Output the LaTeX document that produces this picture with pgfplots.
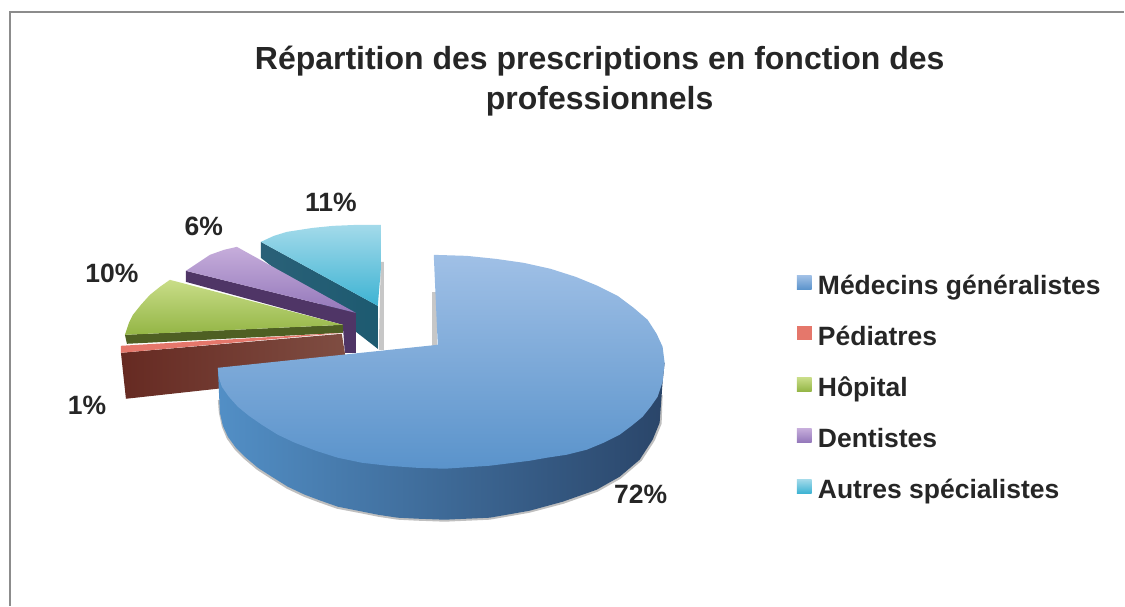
\documentclass[border=0pt]{standalone}
\usepackage{pgfplots}
\pgfplotsset{compat=1.18}
\usepackage{fontspec}
\setmainfont{Liberation Sans}
\definecolor{txt}{HTML}{262626}
\definecolor{frameg}{HTML}{8C8C8C}
\definecolor{cySideL}{HTML}{2A6178}
\definecolor{cySideR}{HTML}{1D5A70}
\definecolor{cyTop}{HTML}{A3DAEA}
\definecolor{cyBot}{HTML}{3DB3D3}
\definecolor{puSide}{HTML}{4F3566}
\definecolor{puTop}{HTML}{C6ADDB}
\definecolor{puBot}{HTML}{9377BA}
\definecolor{grSide}{HTML}{4E5F23}
\definecolor{grTop}{HTML}{C9DD88}
\definecolor{grBot}{HTML}{93B545}
\definecolor{reSideL}{HTML}{662A22}
\definecolor{reSideR}{HTML}{7F4D42}
\definecolor{reTop}{HTML}{E5776B}
\definecolor{blSideL}{HTML}{528FC6}
\definecolor{blSideM}{HTML}{315F8E}
\definecolor{blSideR}{HTML}{2A4569}
\definecolor{blTop}{HTML}{A0C0E6}
\definecolor{blBot}{HTML}{5A93CB}
\newcommand{\lab}{\fontsize{26.5}{31}\selectfont\bfseries\color{txt}}
\begin{document}
\begin{tikzpicture}
\begin{axis}[
  at={(0pt,0pt)}, anchor=south west,
  width=1125pt, height=606pt, scale only axis,
  xmin=0, xmax=1125, ymin=0, ymax=606, y dir=reverse,
  hide axis, clip=false,
  legend style={at={(axis cs:797,274)}, anchor=north west, draw=none, fill=none,
    font=\lab, row sep=28pt, inner sep=0pt, nodes={inner sep=1pt},
    /tikz/every even column/.append style={column sep=0pt}},
  legend cell align=left,
  legend image code/.code={\path[#1,draw=none] (0pt,-4pt) rectangle (15pt,10pt);\path (20pt,0pt);},
]
% frame
\addplot[frameg, line width=1.3pt, forget plot] coordinates {(10,606) (10,12) (1125,12)};
% Autres specialistes (11%)
\addplot[draw=none, fill=black!22, forget plot] coordinates {(381,262) (384,262) (384,350) (379,350)} --cycle;
\addplot[draw=none, fill=black!22, forget plot] coordinates {(432,292) (437,292) (437,347) (432,347)} --cycle;
\addplot[draw=none, shade, left color=cySideL, right color=cySideR, forget plot] coordinates {(261,242) (378,306) (378,349) (261,258)} --cycle;
\addplot[draw=none, shade, top color=cyTop, bottom color=cyBot, forget plot] coordinates {(261,242) (274,236) (287,232) (300,230) (313,228) (333,226) (357,225) (381,225) (381,270) (378,306)} --cycle;
% Dentistes (6%)
\addplot[draw=none, fill=puSide, forget plot] coordinates {(186,271) (352,312) (356,313) (356,353) (345,353) (343,325) (186,282)} --cycle;
\addplot[draw=none, shade, top color=puTop, bottom color=puBot, forget plot] coordinates {(186,271) (198,263) (210,255) (224,250) (237,247) (356,313)} --cycle;
% Hopital (10%)
\addplot[draw=none, fill=grSide, forget plot] coordinates {(125,335) (343,325) (343,333) (127,344)} --cycle;
\addplot[draw=none, shade, top color=grTop, bottom color=grBot, forget plot] coordinates {(170,280) (160,287) (150,295) (141,305) (133,315) (129,323) (125,335) (343,325)} --cycle;
% Pediatres (1%)
\addplot[draw=none, shade, left color=reSideL, right color=reSideR, forget plot] coordinates {(121,353) (342,334) (345,353) (345,375) (126,399)} --cycle;
\addplot[draw=none, fill=reTop, forget plot] coordinates {(121,346) (343,333) (121,353)} --cycle;
% Medecins generalistes (72%)
\addplot[draw=none, fill=black!25, forget plot] coordinates {(218,400) (219,413) (222,427) (227,439) (235,450) (244,459) (257,470) (271,479) (287,489) (304,497) (320,503) (337,509) (358,513) (378,517) (398,520) (418,521) (445,522) (490,520) (530,513) (564,504) (598,492) (621,479) (642,461) (655,441) (662,424) (663,395)} --cycle;
\addplot[draw=none, shade, left color=blSideL, middle color=blSideM, right color=blSideR, forget plot] coordinates {(218,368) (220,413) (223,426) (228,437) (236,448) (245,457) (258,468) (272,477) (288,487) (305,495) (321,501) (338,507) (358,511) (378,515) (398,518) (418,519) (445,520) (490,518) (530,511) (563,502) (597,490) (620,477) (640,460) (653,440) (660,423) (663,382) (665,363) (655,363) (600,420) (445,440)} --cycle;
\addplot[draw=none, shade, top color=blTop, bottom color=blBot, forget plot] coordinates {(434,255) (467,256) (496,259) (524,263) (551,269) (576,277) (598,286) (618,296) (634,308) (648,320) (657,334) (663,347) (665,363) (663,382) (658,397) (651,407) (643,417) (632,426) (620,435) (604,443) (587,450) (567,455) (547,458) (530,461) (490,466) (445,469) (416,468) (388,466) (362,463) (338,458) (316,451) (295,443) (278,435) (262,425) (249,416) (238,407) (229,397) (222,387) (219,378) (218,368) (438,345)} --cycle;
% legend
\addlegendimage{top color=blTop, bottom color=blBot}
\addlegendentry{Médecins généralistes}
\addlegendimage{fill=reTop}
\addlegendentry{Pédiatres}
\addlegendimage{top color=grTop, bottom color=grBot}
\addlegendentry{Hôpital}
\addlegendimage{top color=puTop, bottom color=puBot}
\addlegendentry{Dentistes}
\addlegendimage{top color=cyTop, bottom color=cyBot}
\addlegendentry{Autres spécialistes}
% text
\node[font=\fontsize{32}{40}\selectfont\bfseries\color{txt}, align=center] at (axis cs:600,81) {Répartition des prescriptions en fonction des\\professionnels};
\node[font=\lab] at (axis cs:331,203) {11\%};
\node[font=\lab] at (axis cs:204,227) {6\%};
\node[font=\lab] at (axis cs:112,274) {10\%};
\node[font=\lab] at (axis cs:87,406) {1\%};
\node[font=\lab] at (axis cs:641,495) {72\%};
\end{axis}
\path (0,0) rectangle (1125pt,606pt);
\end{tikzpicture}
\end{document}
